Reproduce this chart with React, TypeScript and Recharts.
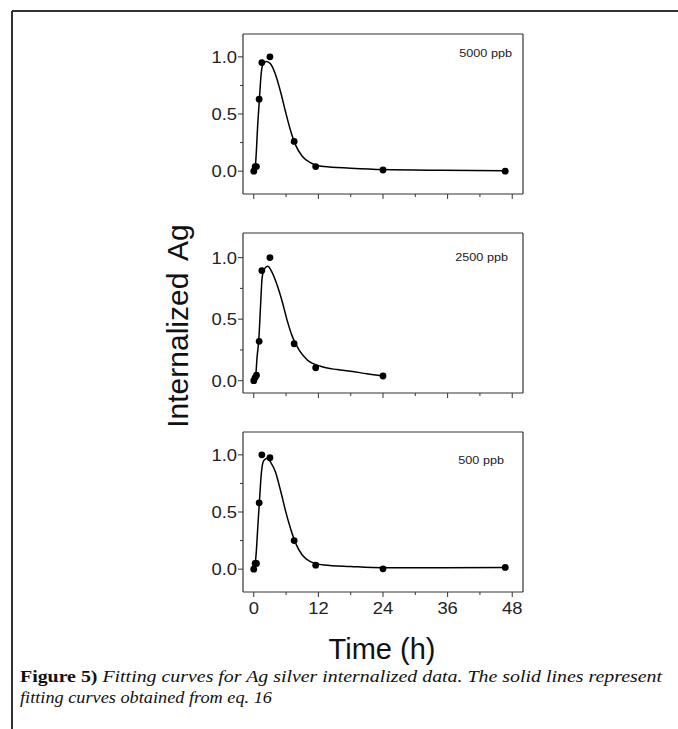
import React from "react";
import {
  ComposedChart,
  Line,
  Scatter,
  XAxis,
  YAxis,
  ReferenceLine,
} from "recharts";

// measured time points (h)
const times = [0, 0.25, 0.5, 1, 1.5, 3, 7.5, 11.5, 24, 46.7];

// measured internalized Ag (normalized)
const meas5000 = [0, 0.04, 0.04, 0.63, 0.95, 1.0, 0.26, 0.04, 0.01, 0.0];
const meas2500 = [0, 0.025, 0.045, 0.32, 0.895, 1.0, 0.3, 0.105, 0.038];
const meas500 = [0, 0.05, 0.05, 0.58, 1.0, 0.975, 0.25, 0.035, 0.003, 0.015];

// fitted curves (eq. 16)
const fitT5000 = [0, 0.3, 0.75, 1.06, 1.37, 1.74, 2.36, 3.1, 4.0, 5.0, 5.9, 6.8, 7.75, 9, 10.5, 13, 18, 24, 35, 46.7];
const fitV5000 = [0, 0.05, 0.42, 0.64, 0.85, 0.94, 0.96, 0.94, 0.85, 0.69, 0.52, 0.36, 0.23, 0.13, 0.075, 0.04, 0.026, 0.014, 0.007, 0.003];

const fitT2500 = [0, 0.3, 0.63, 0.93, 1.25, 1.56, 2.0, 2.6, 3.4, 4.35, 5.3, 6.2, 7.15, 8.4, 9.9, 12.4, 15.5, 18, 21, 24];
const fitV2500 = [0, 0.02, 0.2, 0.33, 0.6, 0.84, 0.91, 0.93, 0.88, 0.775, 0.64, 0.49, 0.36, 0.25, 0.17, 0.117, 0.09, 0.077, 0.056, 0.038];

const fitT500 = [0, 0.13, 0.45, 0.75, 1.06, 1.43, 1.86, 2.5, 3.2, 4.03, 4.96, 5.9, 6.8, 7.75, 9, 10.5, 13, 18, 24, 35, 46.7];
const fitV500 = [0, 0.01, 0.14, 0.37, 0.6, 0.85, 0.95, 0.97, 0.93, 0.85, 0.69, 0.51, 0.36, 0.23, 0.124, 0.066, 0.037, 0.023, 0.012, 0.012, 0.015];

const xTicks = [0, 6, 12, 18, 24, 30, 36, 42, 48];
const yTicks = [0, 0.25, 0.5, 0.75, 1.0];
const xMin = -2;
const xMax = 50;
const yMax = 1.2;

const zip = (t: number[], v: number[]) => t.map((x, i) => ({ t: x, v: v[i] }));

const AXIS = "#333";
const SANS = "Arial, 'Liberation Sans', Helvetica, sans-serif";

function XTick(props: any) {
  const { x, y, payload, showLabel } = props;
  const major = payload.value % 12 === 0;
  return (
    <g>
      <line x1={x} y1={y} x2={x} y2={y + (major ? 5 : 3)} stroke={AXIS} strokeWidth={1} />
      {showLabel && major && (
        <text
          transform={`translate(${x},${y + 22}) scale(1.15,1)`}
          textAnchor="middle"
          fontSize={16}
          fontFamily={SANS}
          fill="#222"
        >
          {payload.value}
        </text>
      )}
    </g>
  );
}

function YTick(props: any) {
  const { x, y, payload } = props;
  const major = Math.abs(payload.value * 2 - Math.round(payload.value * 2)) < 1e-6;
  return (
    <g>
      <line x1={x} y1={y} x2={x - (major ? 5 : 3)} y2={y} stroke={AXIS} strokeWidth={1} />
      {major && (
        <text
          transform={`translate(${x - 6},${y + 6}) scale(1.15,1)`}
          textAnchor="end"
          fontSize={16}
          fontFamily={SANS}
          fill="#222"
        >
          {payload.value.toFixed(1)}
        </text>
      )}
    </g>
  );
}

function Dot(props: any) {
  const { cx, cy } = props;
  if (cx == null || cy == null) return null;
  return <circle cx={cx} cy={cy} r={3.4} fill="#000" />;
}

interface PanelProps {
  top: number;
  yMin: number;
  meas: number[];
  fitT: number[];
  fitV: number[];
  showXLabels?: boolean;
}

function Panel({ top, yMin, meas, fitT, fitV, showXLabels }: PanelProps) {
  const points = zip(times.slice(0, meas.length), meas);
  const fit = zip(fitT, fitV);
  return (
    <div style={{ position: "absolute", left: 183, top: top - 10 }}>
      <ComposedChart
        width={350}
        height={210}
        margin={{ top: 10, right: 10, bottom: 0, left: 0 }}
        style={{ overflow: "visible" }}
      >
        <XAxis
          dataKey="t"
          type="number"
          domain={[xMin, xMax]}
          allowDataOverflow
          ticks={xTicks}
          interval={0}
          height={40}
          tickSize={0}
          tickMargin={0}
          tickLine={false}
          axisLine={{ stroke: AXIS, strokeWidth: 1.2 }}
          tick={<XTick showLabel={showXLabels} />}
        />
        <YAxis
          dataKey="v"
          type="number"
          domain={[yMin, yMax]}
          allowDataOverflow
          ticks={yTicks}
          interval={0}
          width={60}
          tickSize={0}
          tickMargin={0}
          tickLine={false}
          axisLine={{ stroke: AXIS, strokeWidth: 1.2 }}
          tick={<YTick />}
        />
        {/* top and right sides of the plot frame */}
        <ReferenceLine y={yMax} stroke={AXIS} strokeWidth={1.2} />
        <ReferenceLine x={xMax} stroke={AXIS} strokeWidth={1.2} />
        <Line
          data={fit}
          dataKey="v"
          type="monotone"
          stroke="#000"
          strokeWidth={1.5}
          dot={false}
          activeDot={false}
          isAnimationActive={false}
        />
        <Scatter data={points} dataKey="v" shape={<Dot />} isAnimationActive={false} />
      </ComposedChart>
    </div>
  );
}

export default function App() {
  return (
    <div style={{ position: "absolute", left: 0, top: 0, width: 678, height: 729, background: "#fff" }}>
      <Panel top={34} yMin={-0.2} meas={meas5000} fitT={fitT5000} fitV={fitV5000} />
      <Panel top={233} yMin={-0.1} meas={meas2500} fitT={fitT2500} fitV={fitV2500} />
      <Panel top={432} yMin={-0.2} meas={meas500} fitT={fitT500} fitV={fitV500} showXLabels />
      <svg
        width={678}
        height={729}
        style={{ position: "absolute", left: 0, top: 0, pointerEvents: "none" }}
      >
        <line x1={12} y1={11} x2={678} y2={11} stroke="#333" strokeWidth={2} />
        <line x1={12} y1={11} x2={12} y2={729} stroke="#333" strokeWidth={2} />
        <g fontFamily={SANS} fontSize={11.5} fill="#222" textAnchor="end">
          <text transform="translate(512,57) scale(1.1,1)">5000 ppb</text>
          <text transform="translate(508,260.5) scale(1.1,1)">2500 ppb</text>
          <text transform="translate(504,464) scale(1.1,1)">500 ppb</text>
        </g>
        <text
          transform="translate(188,326) rotate(-90)"
          textAnchor="middle"
          fontFamily={SANS}
          fontSize={30}
          fill="#111"
        >
          Internalized<tspan dx={5}> Ag</tspan>
        </text>
        <text x={382} y={659} textAnchor="middle" fontFamily={SANS} fontSize={29} fill="#111">
          Time (h)
        </text>
        <g fontFamily="'Liberation Serif', 'Times New Roman', serif" fontSize={17} fill="#111">
          <text x={20} y={682} textLength={642} lengthAdjust="spacingAndGlyphs">
            <tspan fontWeight="bold">Figure 5)</tspan>
            <tspan fontStyle="italic"> Fitting curves for Ag silver internalized data. The solid lines represent</tspan>
          </text>
          <text x={20} y={703} fontStyle="italic" textLength={252} lengthAdjust="spacingAndGlyphs">
            fitting curves obtained from eq. 16
          </text>
        </g>
      </svg>
    </div>
  );
}
